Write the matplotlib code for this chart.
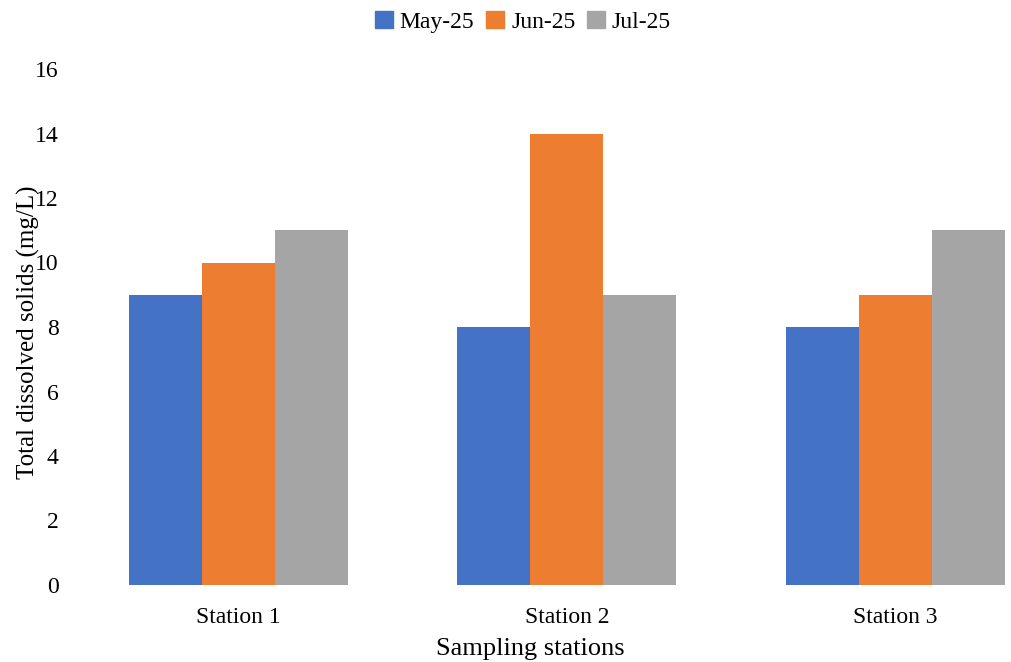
import numpy as np
import matplotlib.pyplot as plt
from matplotlib.patches import Patch

stations = ['Station 1', 'Station 2', 'Station 3']
months = ['May-25', 'Jun-25', 'Jul-25']
may = [9, 8, 8]
jun = [10, 14, 9]
jul = [11, 9, 11]
colors = ['#4472C4', '#ED7D31', '#A5A5A5']

plt.rcParams['font.family'] = ['Liberation Serif', 'DejaVu Serif']

fig = plt.figure(figsize=(10.12, 6.62), dpi=100)
ax = fig.add_axes([74 / 1012, 1 - 585 / 662, 1 - 74 / 1012, (585 - 69) / 662])

x = np.arange(len(stations))
w = 0.2222
for i, (vals, c) in enumerate(zip([may, jun, jul], colors)):
    ax.bar(x + (i - 1) * w, vals, width=w, color=c, label=months[i])

ax.set_xlim(-0.5, 2.355)
ax.set_ylim(0, 16)
ax.set_yticks(range(0, 17, 2))
ax.set_xticks(x)
ax.set_xticklabels(stations)
ax.tick_params(axis='both', length=0, labelsize=17)
ax.tick_params(axis='y', pad=11)
ax.tick_params(axis='x', pad=16)
for s in ax.spines.values():
    s.set_visible(False)

# the y label sits over the tick numbers, as in the original
ax.set_ylabel('Total dissolved solids (mg/L)', fontsize=18)
ax.yaxis.set_label_coords(-0.036, 0.49)
ax.set_xlabel('Sampling stations', fontsize=19)
ax.xaxis.set_label_coords((530 - 74) / (1012 - 74), -0.102)

handles = [Patch(color=c, label=m) for c, m in zip(colors, months)]
fig.legend(handles=handles, loc='center', bbox_to_anchor=(523 / 1012, 1 - 22 / 662),
           ncol=3, frameon=False, fontsize=17, handlelength=0.75, handleheight=0.75,
           handletextpad=0.3, columnspacing=0.5)

fig.savefig('out.png', dpi=100)
